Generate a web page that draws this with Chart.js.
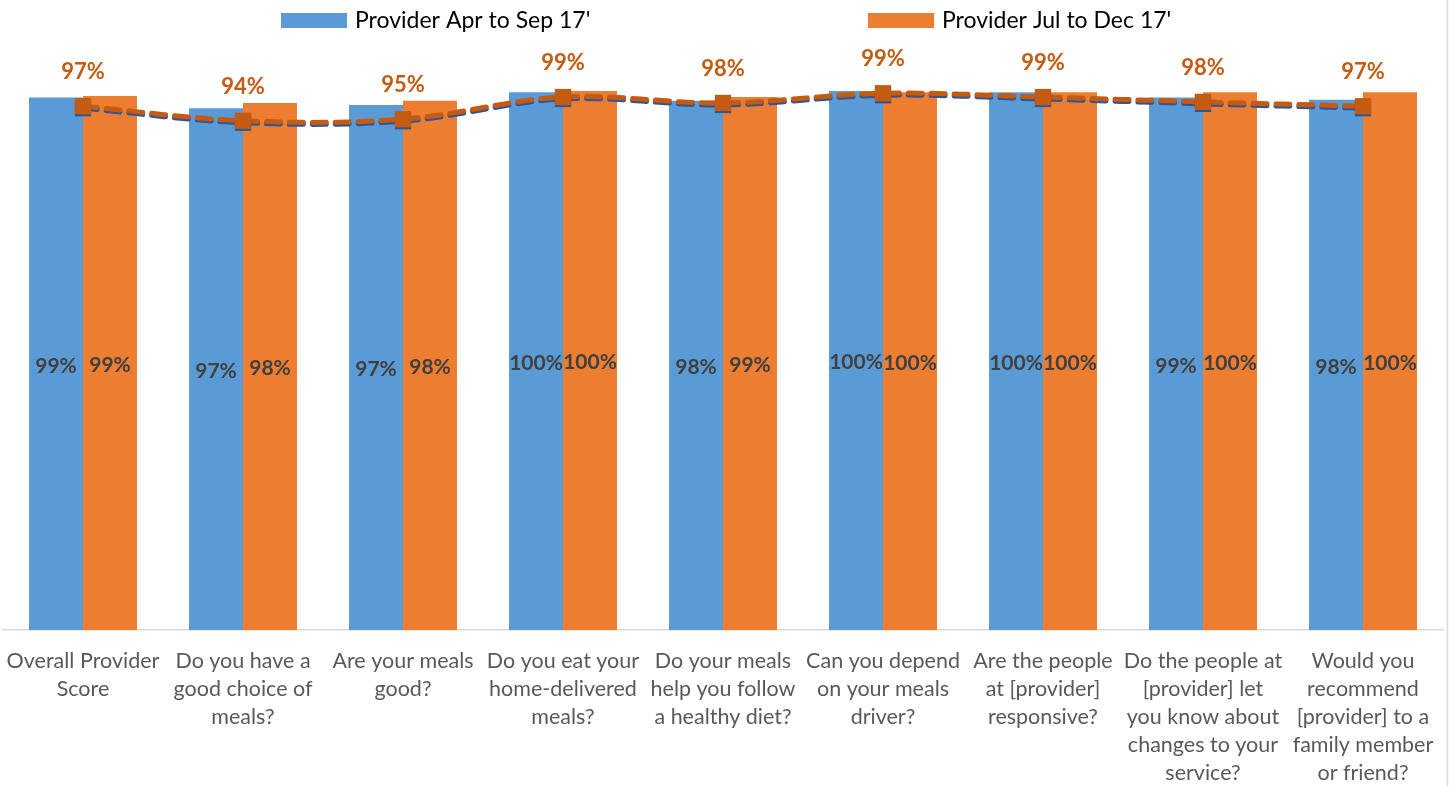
<!DOCTYPE html>
<html>
<head>
<meta charset="utf-8">
<script src="https://cdn.jsdelivr.net/npm/chart.js@4/dist/chart.umd.min.js"></script>
<style>
  html, body { margin: 0; padding: 0; background: #fff; }
  #wrap { width: 1449px; height: 786px; position: relative; }
</style>
</head>
<body>
<div id="wrap"><canvas id="chart"></canvas></div>
<script>
const categories = [
  ['Overall Provider', 'Score'],
  ['Do you have a', 'good choice of', 'meals?'],
  ['Are your meals', 'good?'],
  ['Do you eat your', 'home-delivered', 'meals?'],
  ['Do your meals', 'help you follow', 'a healthy diet?'],
  ['Can you depend', 'on your meals', 'driver?'],
  ['Are the people', 'at [provider]', 'responsive?'],
  ['Do the people at', '[provider] let', 'you know about', 'changes to your', 'service?'],
  ['Would you', 'recommend', '[provider] to a', 'family member', 'or friend?']
];

const seriesNames = ["Provider Apr to Sep 17'", "Provider Jul to Dec 17'"];

// percent values
const aprSep = [98.6, 96.6, 97.2, 99.6, 98.0, 99.8, 99.6, 98.6, 98.2];
const julDec = [98.9, 97.6, 98.0, 99.8, 98.7, 99.6, 99.6, 99.6, 99.6];
// dashed line with square markers
const lineValues = [97.0, 94.3, 94.6, 98.7, 97.6, 99.4, 98.7, 97.8, 97.0];

const BLUE = '#5b9bd5';
const ORANGE = '#ed7d31';
const LINE = '#c55a11';
const FONT = 'Lato, "Open Sans", sans-serif';

const pct = v => Math.round(v) + '%';

const labelPlugin = {
  id: 'valueLabels',
  afterDatasetsDraw(chart) {
    const ctx = chart.ctx;
    ctx.save();
    ctx.textAlign = 'center';
    ctx.textBaseline = 'middle';
    chart.data.datasets.forEach((ds, i) => {
      const meta = chart.getDatasetMeta(i);
      meta.data.forEach((el, j) => {
        const v = ds.data[j];
        if (ds.type === 'line') {
          ctx.font = 'bold 22px ' + FONT;
          ctx.fillStyle = LINE;
          ctx.fillText(pct(v), el.x, el.y - 34);
        } else {
          ctx.font = 'bold 21px ' + FONT;
          ctx.fillStyle = '#404040';
          ctx.fillText(pct(v), el.x, (el.y + el.base) / 2 + 2);
        }
      });
    });
    ctx.restore();
  }
};

const legendPlugin = {
  id: 'customLegend',
  afterDraw(chart) {
    const ctx = chart.ctx;
    const items = [
      { x: 281, color: BLUE, text: seriesNames[0] },
      { x: 868, color: ORANGE, text: seriesNames[1] }
    ];
    ctx.save();
    ctx.font = '23px ' + FONT;
    ctx.textBaseline = 'middle';
    ctx.textAlign = 'left';
    items.forEach(it => {
      ctx.fillStyle = it.color;
      ctx.fillRect(it.x, 13, 66, 15);
      ctx.fillStyle = '#000';
      ctx.fillText(it.text, it.x + 74, 21);
    });
    // chart frame edge on the right
    ctx.strokeStyle = '#d9d9d9';
    ctx.lineWidth = 1.5;
    ctx.beginPath();
    ctx.moveTo(1447.5, 0);
    ctx.lineTo(1447.5, chart.height);
    ctx.stroke();
    ctx.restore();
  }
};

const shadowPlugin = {
  id: 'lineShadow',
  beforeDatasetDraw(chart, args) {
    if (chart.data.datasets[args.index].type !== 'line') return;
    const ctx = chart.ctx;
    ctx.save();
    ctx.shadowColor = '#2f5597';
    ctx.shadowOffsetX = 0;
    ctx.shadowOffsetY = 2;
    ctx.shadowBlur = 0;
  },
  afterDatasetDraw(chart, args) {
    if (chart.data.datasets[args.index].type !== 'line') return;
    chart.ctx.restore();
  }
};

new Chart(document.getElementById('chart'), {
  type: 'bar',
  data: {
    labels: categories,
    datasets: [
      {
        type: 'line',
        label: 'Trend',
        data: lineValues,
        borderColor: LINE,
        borderWidth: 5,
        borderDash: [14, 9],
        borderCapStyle: 'round',
        tension: 0.35,
        pointStyle: 'rect',
        pointRadius: 11.5,
        pointBackgroundColor: LINE,
        pointBorderWidth: 0,
        fill: false,
        clip: false,
        order: 0
      },
      {
        label: seriesNames[0],
        data: aprSep,
        backgroundColor: BLUE,
        categoryPercentage: 0.675,
        barPercentage: 1,
        order: 1
      },
      {
        label: seriesNames[1],
        data: julDec,
        backgroundColor: ORANGE,
        categoryPercentage: 0.675,
        barPercentage: 1,
        order: 1
      }
    ]
  },
  options: {
    responsive: true,
    maintainAspectRatio: false,
    animation: false,
    layout: { autoPadding: false, padding: { top: 90, left: 3, right: 6, bottom: 0 } },
    plugins: {
      legend: { display: false },
      tooltip: { enabled: false }
    },
    scales: {
      y: { display: false, min: 0, max: 100 },
      x: {
        grid: { display: false },
        border: { display: true, color: '#d9d9d9', width: 1.5 },
        ticks: {
          color: '#595959',
          font: { family: FONT, size: 21.5, lineHeight: 1.3 },
          padding: 9,
          maxRotation: 0,
          autoSkip: false
        },
        afterFit(scale) {
          scale.height = 156;
          scale.paddingLeft = 0;
          scale.paddingRight = 0;
        }
      }
    }
  },
  plugins: [shadowPlugin, labelPlugin, legendPlugin]
});
</script>
</body>
</html>
